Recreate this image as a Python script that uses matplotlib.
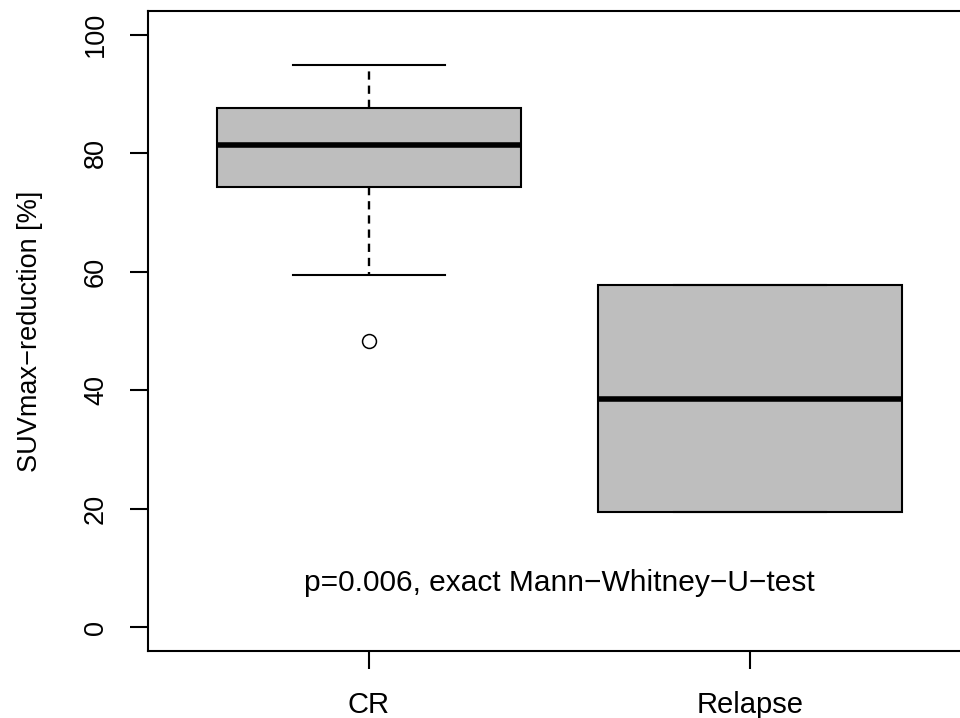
import matplotlib
matplotlib.use("Agg")
import matplotlib.pyplot as plt

plt.rcParams['font.family'] = ['Liberation Sans', 'DejaVu Sans']

# Daten
groups = ["CR", "Relapse"]
whisker_low = [59.4, 19.5]
q1 = [74.3, 19.5]
medians = [81.4, 38.6]
q3 = [87.6, 57.7]
whisker_high = [94.9, 57.7]
outliers = [[48.3], []]
yticks = [0, 20, 40, 60, 80, 100]
p_text = "p=0.006, exact Mann\u2212Whitney\u2212U\u2212test"
ylabel = "SUVmax\u2212reduction [%]"

stats = []
for i in range(len(groups)):
    stats.append({
        "label": groups[i],
        "whislo": whisker_low[i],
        "q1": q1[i],
        "med": medians[i],
        "q3": q3[i],
        "whishi": whisker_high[i],
        "fliers": outliers[i],
    })

fig = plt.figure(figsize=(9.6, 7.18), dpi=100)
W, H = 960, 718
ax = fig.add_axes([148 / W, (H - 651) / H, (971 - 148) / W, (651 - 11) / H])

ax.bxp(stats, positions=[1, 2], widths=0.8, patch_artist=True,
       boxprops=dict(facecolor="#bebebe", edgecolor="black", linewidth=1.5),
       medianprops=dict(color="black", linewidth=4, solid_capstyle="butt"),
       whiskerprops=dict(color="black", linewidth=1.7, linestyle=(0, (3.5, 2.5))),
       capprops=dict(color="black", linewidth=1.5),
       capwidths=0.4,
       flierprops=dict(marker="o", markerfacecolor="none", markeredgecolor="black",
                       markersize=10, markeredgewidth=1.1))

ax.set_xlim(0.42, 2.58)
ax.set_ylim(-4, 104)
ax.set_yticks(yticks)
ax.set_xticks([1, 2])
ax.set_xticklabels(groups)

for s in ["top", "left", "bottom", "right"]:
    ax.spines[s].set_linewidth(1.5)

ax.tick_params(axis="both", length=13, width=1.5)
ax.tick_params(axis="x", pad=15.5, labelsize=21)
ax.tick_params(axis="y", pad=15, labelsize=19.5)
plt.setp(ax.get_yticklabels(), rotation=90, va="center")

ax.set_ylabel(ylabel, fontsize=19.5)
ax.yaxis.set_label_coords(-0.127, 0.5)
ax.text(1.5, 7.5, p_text, ha="center", va="center", fontsize=21.5)

fig.savefig("out.png", dpi=100)
